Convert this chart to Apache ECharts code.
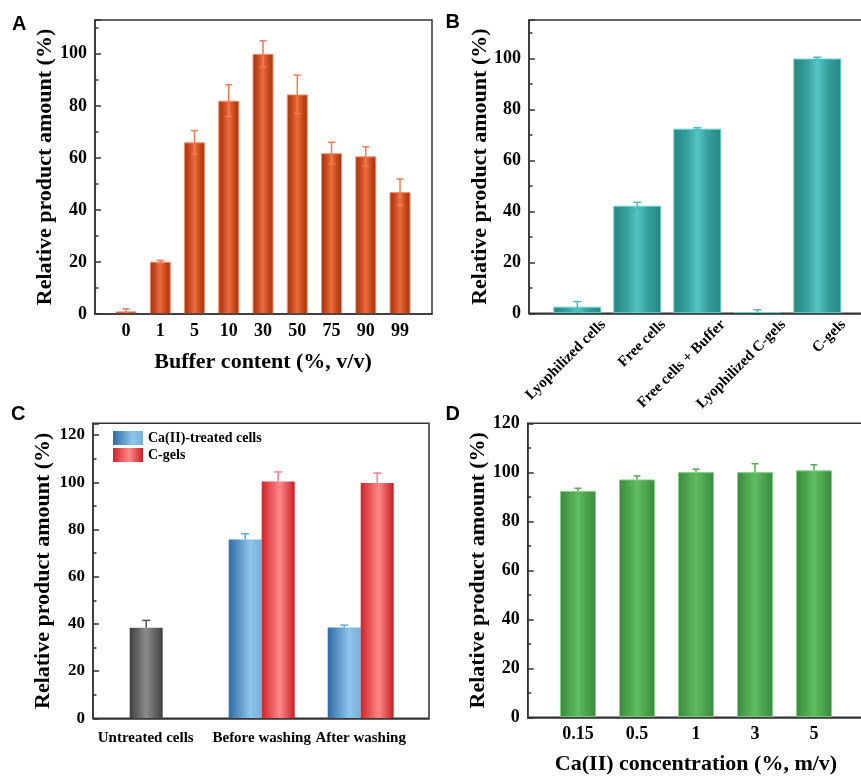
<!DOCTYPE html>
<html><head><meta charset="utf-8">
<script src="https://cdn.jsdelivr.net/npm/echarts@6/dist/echarts.min.js"></script>
<style>html,body{margin:0;padding:0;background:#fff}#c{width:861px;height:780px}</style>
</head><body><div id="c"></div>
<script>
// ---------- data ----------
const aCategories = ['0', '1', '5', '10', '30', '50', '75', '90', '99'];
const aValues = [1.0, 20.1, 66.0, 82.0, 100.0, 84.4, 61.8, 60.6, 46.9];
const aErrors = [1.0, 0.5, 4.5, 6.1, 5.0, 7.4, 4.2, 3.7, 5.0];
const aYTicks = [0, 20, 40, 60, 80, 100];

const bCategories = ['Lyophilized cells', 'Free cells', 'Free cells + Buffer', 'Lyophilized C-gels', 'C-gels'];
const bValues = [2.6, 42.2, 72.4, 0.5, 99.9];
const bErrors = [2.0, 1.3, 0.4, 0.9, 0.5];
const bYTicks = [0, 20, 40, 60, 80, 100];

const cCategories = ['Untreated cells', 'Before washing', 'After washing'];
const cSeriesNames = ['Ca(II)-treated cells', 'C-gels'];
const cTreated = [38.4, 75.8, 38.5];
const cTreatedErr = [3.1, 2.4, 1.0];
const cGels = [null, 100.3, 99.7];
const cGelsErr = [null, 4.1, 4.2];
const cYTicks = [0, 20, 40, 60, 80, 100, 120];

const dCategories = ['0.15', '0.5', '1', '3', '5'];
const dValues = [92.4, 97.1, 100.1, 100.1, 100.8];
const dErrors = [1.1, 1.4, 1.2, 3.4, 2.3];
const dYTicks = [0, 20, 40, 60, 80, 100, 120];

// ---------- styles ----------
const SERIF = '"Liberation Serif", "Times New Roman", serif';
const AX = '#333';
function grad(stops) {
  return { type: 'linear', x: 0, y: 0, x2: 1, y2: 0,
    colorStops: stops.map(s => ({ offset: s[0], color: s[1] })) };
}
const aFill = grad([[0, '#aa320c'], [0.22, '#c0461a'], [0.5, '#ec6c3e'], [0.78, '#c0461a'], [1, '#aa320c']]);
const bFill = grad([[0, '#268481'], [0.28, '#34a09d'], [0.5, '#54c4c4'], [0.72, '#34a09d'], [1, '#268481']]);
const cBlue = grad([[0, '#2c6ca6'], [0.65, '#8fc4ea'], [1, '#78b0da']]);
const cRed = grad([[0, '#d0242a'], [0.55, '#ff8888'], [1, '#c91f26']]);
const cGrey = grad([[0, '#3f3f3f'], [0.5, '#8c8c8c'], [1, '#404040']]);
const dFill = grad([[0, '#3a893d'], [0.5, '#60bc61'], [1, '#3a893d']]);

function outerGrid(l, t, w, h) {
  return { left: l, top: t, width: w, height: h, show: true, borderColor: AX, borderWidth: 1.5,
    backgroundColor: 'transparent', containLabel: false, outerBoundsMode: 'none' };
}
function innerGrid(l, t, w, h) {
  return { left: l, top: t, width: w, height: h, show: false, containLabel: false, outerBoundsMode: 'none' };
}
function outerX(gi) {
  return { type: 'value', gridIndex: gi, min: 0, max: 1, z: 5,
    axisLine: { show: true, onZero: false, lineStyle: { color: AX, width: 1.5 } },
    axisTick: { show: false }, axisLabel: { show: false }, splitLine: { show: false } };
}
function outerY(gi, max, ticks, fs, gap) {
  return { type: 'value', gridIndex: gi, min: 0, max: max, interval: 20, z: 5,
    name: 'Relative product amount (%)', nameLocation: 'middle', nameGap: gap, nameRotate: 90,
    nameMoveOverlap: false,
    nameTextStyle: { fontFamily: SERIF, fontWeight: 'bold', fontSize: 22, color: '#000' },
    axisLine: { show: true, lineStyle: { color: AX, width: 1.5 } },
    axisTick: { show: true, inside: true, length: 6, lineStyle: { color: AX, width: 1.5 } },
    minorTick: { show: true, splitNumber: 2, length: 3.5, lineStyle: { color: AX, width: 1.5 } },
    axisLabel: { margin: 8, fontFamily: SERIF, fontWeight: 'bold', fontSize: fs, color: '#000',
      formatter: v => ticks.indexOf(v) >= 0 ? String(v) : '' },
    splitLine: { show: false }, minorSplitLine: { show: false } };
}
function innerY(gi, max) {
  return { type: 'value', gridIndex: gi, min: 0, max: max, show: false, splitLine: { show: false } };
}
function catX(gi, data, label, extra) {
  return Object.assign({ type: 'category', gridIndex: gi, data: data, boundaryGap: true,
    axisLine: { show: false }, axisTick: { show: false }, splitLine: { show: false },
    axisLabel: Object.assign({ interval: 0, fontFamily: SERIF, fontWeight: 'bold', color: '#000' }, label) }, extra || {});
}
function errRender(colorFn, both, offsetFrac, cap) {
  return function (params, api) {
    const x = api.value(0), y = api.value(1), e = api.value(2);
    const band = api.size([1, 0])[0];
    const top = api.coord([x, y + e]);
    const bot = api.coord([x, both ? y - e : y]);
    const cx = top[0] + band * offsetFrac;
    const st = { stroke: colorFn(params.dataIndex), lineWidth: 1.5 };
    const ch = [
      { type: 'line', shape: { x1: cx, y1: top[1], x2: cx, y2: bot[1] }, style: st },
      { type: 'line', shape: { x1: cx - cap, y1: top[1], x2: cx + cap, y2: top[1] }, style: st }
    ];
    if (both) ch.push({ type: 'line', shape: { x1: cx - cap, y1: bot[1], x2: cx + cap, y2: bot[1] }, style: st });
    return { type: 'group', children: ch };
  };
}
function errData(vals, errs) {
  const out = [];
  vals.forEach((v, i) => { if (v !== null) out.push([i, v, errs[i]]); });
  return out;
}

const A = { max: 113 }, B = { max: 115 }, C = { max: 125 }, D = { max: 120 };

const option = {
  backgroundColor: '#fff',
  animation: false,
  grid: [
    outerGrid(95, 20, 337, 294),          // 0 A outer
    innerGrid(108.9, 20, 308.25, 294),    // 1 A inner
    outerGrid(529, 20, 345, 293.3),       // 2 B outer
    innerGrid(547.3, 20, 300, 293.3),     // 3 B inner
    innerGrid(573.3, 20, 300, 293.3),     // 4 B labels
    outerGrid(93, 423.3, 336, 295),       // 5 C outer
    innerGrid(113.2, 423.3, 297, 295),    // 6 C inner
    outerGrid(527.7, 423.3, 345, 294),    // 7 D outer
    innerGrid(548.5, 423.3, 295, 294)     // 8 D inner
  ],
  xAxis: [
    outerX(0),
    catX(1, aCategories, { fontSize: 18, margin: 8 }, {
      name: 'Buffer content (%, v/v)', nameLocation: 'middle', nameGap: 37, nameMoveOverlap: false,
      nameTextStyle: { fontFamily: SERIF, fontWeight: 'bold', fontSize: 22, color: '#000' } }),
    outerX(2),
    catX(3, bCategories, { show: false }),
    catX(4, bCategories, { fontSize: 15, rotate: 45, margin: 9 }),
    outerX(5),
    catX(6, cCategories.map((c, i) => i === 0 ? { value: c, textStyle: { padding: [0, 34, 0, 0] } } : c),
      { fontSize: 15, margin: 12 }),
    outerX(7),
    catX(8, dCategories, { fontSize: 18, margin: 8 }, {
      name: 'Ca(II) concentration (%, m/v)', nameLocation: 'middle', nameGap: 36, nameMoveOverlap: false,
      nameTextStyle: { fontFamily: SERIF, fontWeight: 'bold', fontSize: 22, color: '#000' } })
  ],
  yAxis: [
    outerY(0, A.max, aYTicks, 18, 39),
    innerY(1, A.max),
    outerY(2, B.max, bYTicks, 18, 38),
    innerY(3, B.max),
    innerY(4, B.max),
    outerY(5, C.max, cYTicks, 17, 39),
    innerY(6, C.max),
    outerY(7, D.max, dYTicks, 18, 38),
    innerY(8, D.max)
  ],
  legend: {
    data: cSeriesNames, orient: 'vertical', left: 113, top: 431, padding: 0,
    itemWidth: 30, itemHeight: 14, itemGap: 3,
    icon: 'rect', textStyle: { fontFamily: SERIF, fontWeight: 'bold', fontSize: 14, color: '#000' }
  },
  series: [
    { type: 'bar', name: 'A', xAxisIndex: 1, yAxisIndex: 1, data: aValues, barWidth: 21,
      itemStyle: { color: aFill, borderColor: '#f2936d', borderWidth: 1 } },
    { type: 'custom', name: 'A-err', xAxisIndex: 1, yAxisIndex: 1, data: errData(aValues, aErrors), z: 3,
      renderItem: errRender(() => '#f47a52', true, 0, 3.5) },

    { type: 'bar', name: 'B', xAxisIndex: 3, yAxisIndex: 3, data: bValues, barWidth: 48,
      itemStyle: { color: bFill, borderColor: '#72d6d6', borderWidth: 1 } },
    { type: 'custom', name: 'B-err', xAxisIndex: 3, yAxisIndex: 3, data: errData(bValues, bErrors), z: 3,
      renderItem: errRender(() => '#45bfbf', true, 0, 4) },

    { type: 'bar', name: cSeriesNames[0], xAxisIndex: 6, yAxisIndex: 6, barWidth: 33, barGap: '0%',
      data: cTreated.map((v, i) => i === 0 ? { value: v, itemStyle: { color: cGrey } } : v),
      itemStyle: { color: cBlue } },
    { type: 'bar', name: cSeriesNames[1], xAxisIndex: 6, yAxisIndex: 6, barWidth: 33, barGap: '0%',
      data: cGels.map(v => v === null ? '-' : v), itemStyle: { color: cRed } },
    { type: 'custom', name: 'C-err1', xAxisIndex: 6, yAxisIndex: 6, data: errData(cTreated, cTreatedErr), z: 3,
      renderItem: errRender(i => i === 0 ? '#555' : '#5aaee0', false, -1 / 6, 4) },
    { type: 'custom', name: 'C-err2', xAxisIndex: 6, yAxisIndex: 6, data: errData(cGels, cGelsErr), z: 3,
      renderItem: errRender(() => '#f47f80', false, 1 / 6, 4) },

    { type: 'bar', name: 'D', xAxisIndex: 8, yAxisIndex: 8, data: dValues, barWidth: 36,
      itemStyle: { color: dFill, borderColor: '#86d486', borderWidth: 1 } },
    { type: 'custom', name: 'D-err', xAxisIndex: 8, yAxisIndex: 8, data: errData(dValues, dErrors), z: 3,
      renderItem: errRender(() => '#4cae4f', false, 0, 3.5) }
  ],
  graphic: [
    { type: 'text', left: 12, top: 14, style: { text: 'A', font: 'bold 20px "Liberation Sans", Arial, sans-serif', fill: '#000' } },
    { type: 'text', left: 445.5, top: 12, style: { text: 'B', font: 'bold 20px "Liberation Sans", Arial, sans-serif', fill: '#000' } },
    { type: 'text', left: 11, top: 404, style: { text: 'C', font: 'bold 20px "Liberation Sans", Arial, sans-serif', fill: '#000' } },
    { type: 'text', left: 445.5, top: 404, style: { text: 'D', font: 'bold 20px "Liberation Sans", Arial, sans-serif', fill: '#000' } }
  ]
};
const chart = echarts.init(document.getElementById('c'), null, { renderer: 'canvas' });
chart.setOption(option);
</script></body></html>
